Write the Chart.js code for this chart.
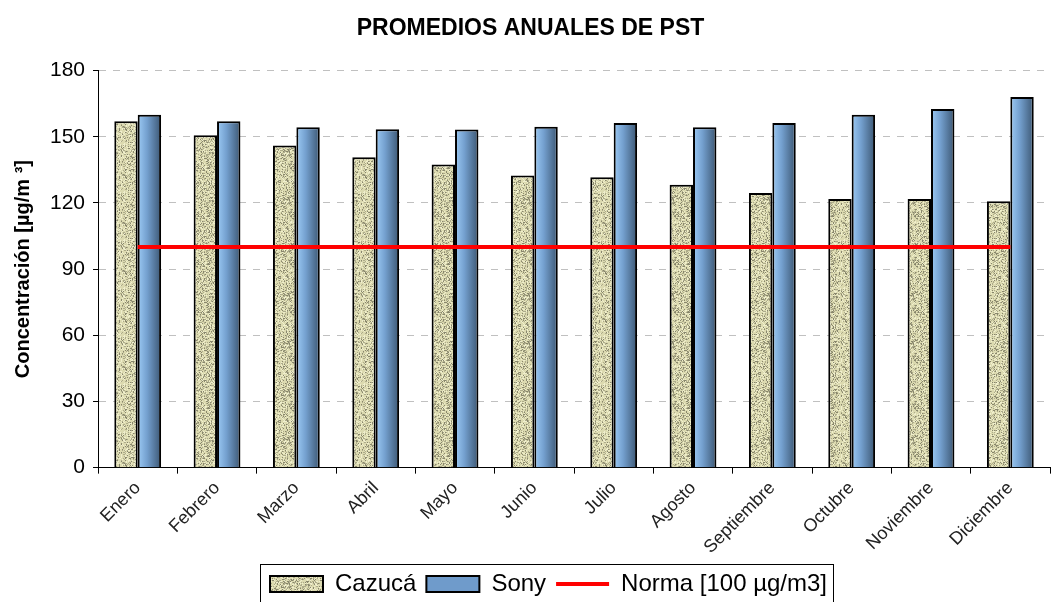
<!DOCTYPE html>
<html>
<head>
<meta charset="utf-8">
<script src="https://cdn.jsdelivr.net/npm/chart.js@4"></script>
<style>
  body { margin: 0; background: #fff; }
  #wrap { width: 1053px; height: 602px; }
</style>
</head>
<body>
<div id="wrap"><canvas id="pstChart" width="1053" height="602"></canvas></div>
<script>
const months = ["Enero", "Febrero", "Marzo", "Abril", "Mayo", "Junio", "Julio", "Agosto", "Septiembre", "Octubre", "Noviembre", "Diciembre"];
const cazuca = [157, 150.7, 146.1, 140.7, 137.4, 132.4, 131.6, 128.2, 124.5, 121.8, 121.8, 120.8];
const sony = [160, 157, 154.3, 153.4, 153.3, 154.6, 156.3, 154.3, 156.3, 160, 162.6, 168];
const norma = [100, 100, 100, 100, 100, 100, 100, 100, 100, 100, 100, 100];
const yTicks = [0, 30, 60, 90, 120, 150, 180];

const GROUP = 0.59;
const FONT = 'Liberation Sans, Arial, sans-serif';
const LEGEND_SHIFT = 18;

// textured fill for the Cazucá bars
function makeTexture() {
    const c = document.createElement('canvas');
    c.width = 48; c.height = 48;
    const g = c.getContext('2d');
    g.fillStyle = '#dcdab0';
    g.fillRect(0, 0, 48, 48);
    for (let y = 0; y < 48; y++) {
        for (let x = 0; x < 48; x++) {
            const h = Math.abs(Math.sin(x * 12.9898 + y * 78.233) * 43758.5453) % 1;
            if (h < 0.3) {
                g.fillStyle = h < 0.12 ? '#88866c' : '#adab8a';
                g.fillRect(x, y, 1, 1);
            } else if (h > 0.82) {
                g.fillStyle = '#f0efcd';
                g.fillRect(x, y, 1, 1);
            }
        }
    }
    return document.getElementById('pstChart').getContext('2d').createPattern(c, 'repeat');
}
const texture = makeTexture();

function blueGradient(ctx, left, right) {
    const g = ctx.createLinearGradient(left, 0, right, 0);
    g.addColorStop(0, '#9ccaf4');
    g.addColorStop(0.4, '#74a0cf');
    g.addColorStop(1, '#3c5773');
    return g;
}

function sonyFill(c) {
    const chart = c.chart;
    const xs = chart.scales.x;
    if (c.type !== 'data' || !xs || !chart.chartArea) return '#6d96c2';
    const w = xs.width / months.length * GROUP / 2;
    const left = xs.getPixelForValue(c.dataIndex);
    return blueGradient(chart.ctx, left, left + w);
}

// the legend sits a little right of centre and has a frame
const legendBox = {
    id: 'legendBox',
    afterLayout(chart) {
        const l = chart.legend;
        l.left += LEGEND_SHIFT;
        l.right += LEGEND_SHIFT;
        (l.legendHitBoxes || []).forEach(b => { b.left += LEGEND_SHIFT; });
    },
    afterDraw(chart) {
        const boxes = chart.legend.legendHitBoxes;
        if (!boxes || !boxes.length) return;
        const left = Math.min(...boxes.map(b => b.left)) - 10;
        const right = Math.max(...boxes.map(b => b.left + b.width)) + 6;
        const top = boxes[0].top - 8;
        const ctx = chart.ctx;
        ctx.save();
        ctx.strokeStyle = '#000';
        ctx.lineWidth = 1;
        ctx.strokeRect(Math.round(left) + 0.5, Math.round(top) + 0.5, Math.round(right - left), chart.height);
        ctx.restore();
    }
};

new Chart(document.getElementById('pstChart'), {
    type: 'bar',
    data: {
        labels: months,
        datasets: [{
            label: 'Cazucá',
            data: cazuca,
            backgroundColor: texture,
            borderColor: '#000',
            borderWidth: 2,
            borderSkipped: 'bottom',
            categoryPercentage: GROUP,
            barPercentage: 1,
            order: 2
        }, {
            label: 'Sony',
            data: sony,
            backgroundColor: sonyFill,
            borderColor: '#000',
            borderWidth: 2,
            borderSkipped: 'bottom',
            categoryPercentage: GROUP,
            barPercentage: 1,
            order: 2
        }, {
            type: 'line',
            label: 'Norma [100 µg/m3]',
            data: norma,
            borderColor: '#ff0000',
            backgroundColor: '#ff0000',
            borderWidth: 4,
            pointRadius: 0,
            order: 1
        }]
    },
    options: {
        responsive: false,
        animation: false,
        layout: { padding: { left: 11, right: 3, top: 0, bottom: -4 } },
        plugins: {
            title: {
                display: true,
                text: 'PROMEDIOS ANUALES DE PST',
                color: '#000',
                font: { family: FONT, size: 23, weight: 'bold' },
                padding: { top: 15, bottom: 28 }
            },
            legend: {
                position: 'bottom',
                labels: {
                    color: '#000',
                    font: { family: FONT, size: 24 },
                    usePointStyle: true,
                    pointStyleWidth: 53,
                    boxHeight: 16,
                    padding: 10,
                    generateLabels() {
                        return [
                            { text: 'Cazucá', fillStyle: texture, strokeStyle: '#000', lineWidth: 2, pointStyle: 'rect', datasetIndex: 0 },
                            { text: 'Sony', fillStyle: '#6f9bcb', strokeStyle: '#000', lineWidth: 2, pointStyle: 'rect', datasetIndex: 1 },
                            { text: 'Norma [100 µg/m3]', fillStyle: '#ff0000', strokeStyle: '#ff0000', lineWidth: 4, pointStyle: 'line', datasetIndex: 2 }
                        ];
                    }
                }
            },
            tooltip: { enabled: false }
        },
        scales: {
            x: {
                offset: true,
                grid: { offset: true, drawOnChartArea: false, color: '#000', tickLength: 6 },
                border: { color: '#000', width: 1 },
                ticks: {
                    color: '#222',
                    font: { family: FONT, size: 18 },
                    maxRotation: 45,
                    minRotation: 45,
                    padding: 4
                }
            },
            y: {
                min: 0,
                max: 180,
                afterBuildTicks(axis) {
                    axis.ticks = yTicks.map(v => ({ value: v }));
                },
                grid: {
                    color: ctx => ctx.tick && ctx.tick.value === 0 ? 'rgba(0,0,0,0)' : '#c0c0c0',
                    tickColor: '#000',
                    tickLength: 5,
                    lineWidth: 1
                },
                border: { color: '#000', width: 1, dash: [7, 7] },
                ticks: {
                    color: '#000',
                    font: { family: FONT, size: 21 },
                    padding: 8
                },
                title: {
                    display: true,
                    text: 'Concentración [µg/m ³]',
                    color: '#000',
                    font: { family: FONT, size: 20, weight: 'bold' },
                    padding: { top: 0, bottom: 7 }
                }
            }
        }
    },
    plugins: [legendBox]
});
</script>
</body>
</html>
